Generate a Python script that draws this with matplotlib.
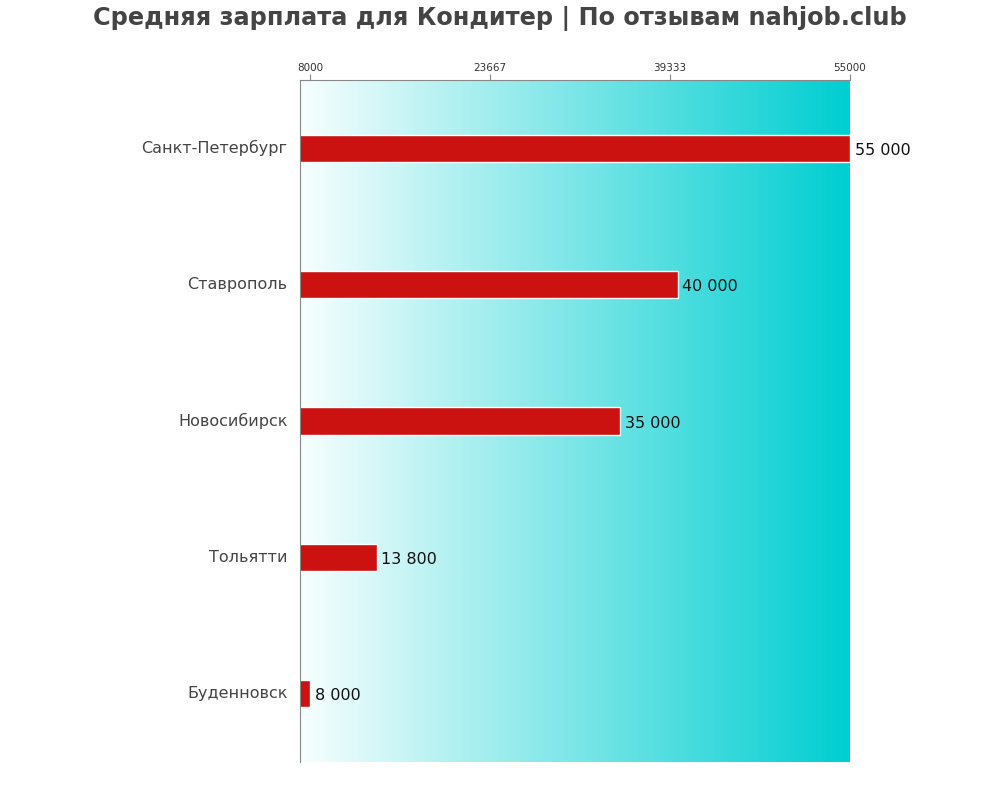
import numpy as np
import matplotlib
matplotlib.use("Agg")
import matplotlib.pyplot as plt
from matplotlib.colors import LinearSegmentedColormap

plt.rcParams["font.family"] = ["DejaVu Sans"]

# Données
cities = ["Санкт-Петербург", "Ставрополь", "Новосибирск", "Тольятти", "Буденновск"]
salaries = [55000, 40000, 35000, 13800, 8000]
tick_values = [8000, 23667, 39333, 55000]
tick_labels = ["8000", "23667", "39333", "55000"]
title = "Средняя зарплата для Кондитер | По отзывам nahjob.club"

fig = plt.figure(figsize=(10, 8), dpi=100)
ax = fig.add_axes([0.3, 0.0475, 0.55, 0.8525])

x_min = 8000 - (55000 - 8000) * 10 / 540
x_max = 55000

# Fond en dégradé
cmap = LinearSegmentedColormap.from_list("bg", ["#f7fefe", "#00ced1"])
grad = np.linspace(0, 1, 256).reshape(1, -1)
ax.imshow(grad, extent=[x_min, x_max, 4.5, -0.5], aspect="auto", cmap=cmap, zorder=0)

y = np.arange(len(cities))
ax.barh(y, salaries, height=0.2, color="#cc1111", edgecolor="white", linewidth=1, zorder=2)

for yi, v in zip(y, salaries):
    ax.text(v + 400, yi + 0.015, f"{v:,}".replace(",", " "), va="center", ha="left",
            fontsize=11.5, color="#111111", zorder=3)

ax.set_xlim(x_min, x_max)
ax.set_ylim(4.5, -0.5)

ax.set_yticks(y - 0.01)
ax.set_yticklabels(cities, fontsize=11.5, color="#444444")
ax.tick_params(axis="y", length=0, pad=9)

ax.xaxis.tick_top()
ax.set_xticks(tick_values)
ax.set_xticklabels(tick_labels, fontsize=7.5, color="#333333")
ax.tick_params(axis="x", length=4, color="#888888", pad=1)

for s in ["right", "bottom"]:
    ax.spines[s].set_visible(False)
for s in ["left", "top"]:
    ax.spines[s].set_color("#888888")

fig.suptitle(title, fontsize=17.25, fontweight="bold", color="#444444", y=0.992)

fig.savefig("out.png", dpi=100)
